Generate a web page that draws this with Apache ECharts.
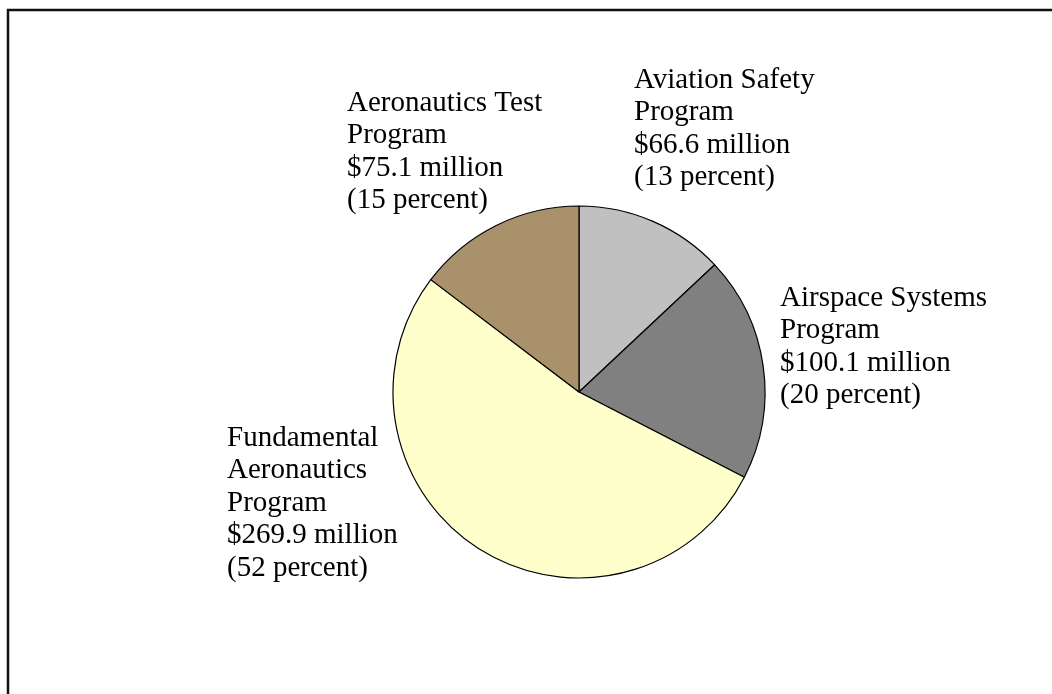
<!DOCTYPE html>
<html>
<head>
<meta charset="utf-8">
<script src="https://cdn.jsdelivr.net/npm/echarts@6/dist/echarts.min.js"></script>
<style>
  html, body { margin: 0; padding: 0; background: #fff; }
  #chart { width: 1052px; height: 694px; }
</style>
</head>
<body>
<div id="chart"></div>
<script>
// Data (clockwise from 12 o'clock)
const categories = [
  'Aviation Safety\nProgram',
  'Airspace Systems\nProgram',
  'Fundamental\nAeronautics\nProgram',
  'Aeronautics Test\nProgram'
];
const valuesMillion = [66.6, 100.1, 269.9, 75.1];
const percentLabels = [13, 20, 52, 15];

// Styling / layout (not data)
const sliceColors = ['#C0C0C0', '#808080', '#FFFFCC', '#A9916B'];
const labelAnchors = [[634, 64], [780, 282], [227, 422], [347, 87]];

const chart = echarts.init(document.getElementById('chart'), null, { renderer: 'canvas' });

const seriesData = categories.map((name, i) => ({
  name: name,
  value: valuesMillion[i],
  itemStyle: { color: sliceColors[i] }
}));

chart.setOption({
  animation: false,
  backgroundColor: '#ffffff',
  graphic: [
    {
      type: 'polyline',
      silent: true,
      shape: { points: [[8, 700], [8, 10], [1060, 10]] },
      style: { stroke: '#111111', lineWidth: 2.5, fill: null }
    }
  ],
  series: [{
    type: 'pie',
    center: [579, 392],
    radius: 186,
    startAngle: 90,
    clockwise: true,
    avoidLabelOverlap: false,
    data: seriesData,
    itemStyle: { borderColor: '#000000', borderWidth: 1.2 },
    emphasis: { disabled: true },
    label: {
      show: true,
      position: 'outside',
      color: '#000000',
      fontFamily: '"Liberation Serif", "Times New Roman", serif',
      fontSize: 29,
      lineHeight: 32.5,
      align: 'left',
      formatter: function (p) {
        return p.name + '\n$' + p.value.toFixed(1) + ' million\n(' + percentLabels[p.dataIndex] + ' percent)';
      }
    },
    labelLine: { show: false },
    labelLayout: function (params) {
      const a = labelAnchors[params.dataIndex];
      return { x: a[0], y: a[1], align: 'left', verticalAlign: 'top', hideOverlap: false };
    }
  }]
});
</script>
</body>
</html>
